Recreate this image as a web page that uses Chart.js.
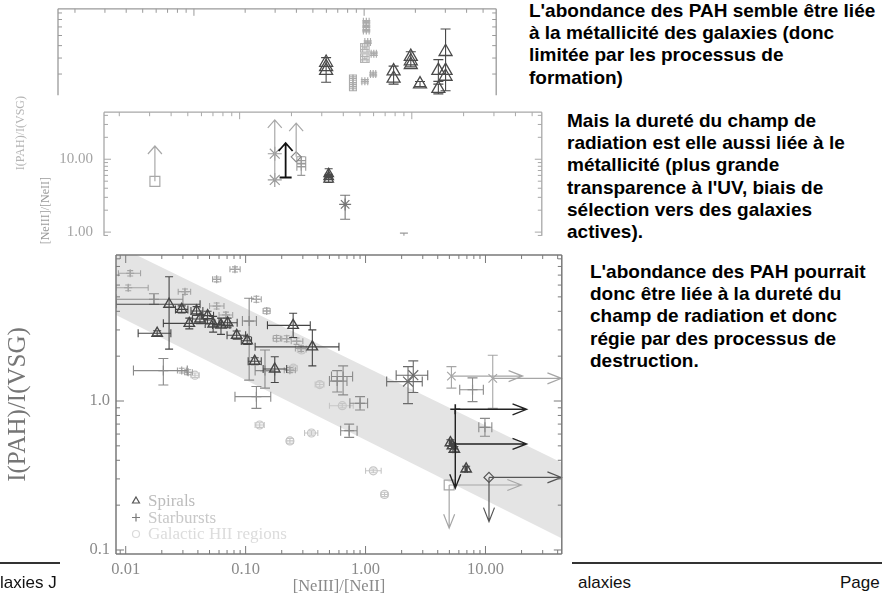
<!DOCTYPE html>
<html>
<head>
<meta charset="utf-8">
<script src="https://cdn.jsdelivr.net/npm/chart.js@4.4.1/dist/chart.umd.min.js"></script>
<style>
  html, body { margin: 0; padding: 0; background: #fff; }
  body { width: 882px; height: 600px; position: relative; overflow: hidden; font-family: "Liberation Sans", Arial, sans-serif; }
  .panel { position: absolute; background: #fff; }
  .panel canvas { display: block; }
  .vlabel { position: absolute; font-family: "Liberation Serif", serif; writing-mode: vertical-rl; transform: rotate(180deg); white-space: nowrap; line-height: 1; }
  .note { position: absolute; font-weight: bold; font-size: 19px; line-height: 22.2px; color: #000; white-space: nowrap; z-index: 6; }
  .rule { position: absolute; height: 2px; background: #333; z-index: 6; }
  .foot { position: absolute; font-size: 17px; color: #111; white-space: nowrap; z-index: 6; }
</style>
</head>
<body>

<div class="panel" id="panelTop" style="left:0;top:0;width:505px;height:104px;z-index:1"><canvas id="cTop" width="505" height="104"></canvas></div>
<div class="panel" id="panelMid" style="left:0;top:104px;width:550px;height:140px;z-index:2"><canvas id="cMid" width="550" height="140"></canvas></div>
<div class="vlabel" style="left:14px;top:96px;font-size:12px;color:#b4b4b4;z-index:3">I(PAH)/I(VSG)</div>
<div class="vlabel" style="left:39px;top:177px;font-size:12px;color:#9a9a9a;z-index:3">[NeIII]/[NeII]</div>
<div class="panel" id="panelMain" style="left:0;top:245px;width:570px;height:355px;z-index:4"><canvas id="cMain" width="570" height="355"></canvas></div>

<div class="note" style="left:529px;top:0px">L'abondance des PAH semble être liée<br>à la métallicité des galaxies (donc<br>limitée par les processus de<br>formation)</div>
<div class="note" style="left:567px;top:110px">Mais la dureté du champ de<br>radiation est elle aussi liée à le<br>métallicité (plus grande<br>transparence à l'UV, biais de<br>sélection vers des galaxies<br>actives).</div>
<div class="note" style="left:590px;top:261px">L'abondance des PAH pourrait<br>donc être liée à la dureté du<br>champ de radiation et donc<br>régie par des processus de<br>destruction.</div>

<div class="rule" style="left:0;top:562px;width:60px"></div>
<div class="rule" style="left:572px;top:562px;width:310px"></div>
<div class="foot" style="left:0;top:573px">laxies J</div>
<div class="foot" style="left:578px;top:573px">alaxies</div>
<div class="foot" style="left:840px;top:573px">Page</div>

<script>
// ---------- main panel: I(PAH)/I(VSG) versus [NeIII]/[NeII] ----------
// rows: [x, y, xLow, xHigh, yLow, yHigh]
const spirals = [
  [0.0183, 2.85, 0.0127, 0.0238, 2.74, 2.96],
  [0.023, 4.46, 0.0083, 0.0417, 2.23, 6.83],
  [0.0293, 4.12, 0.026, 0.033, 3.9, 4.35],
  [0.0339, 3.32, 0.0206, 0.0554, 3.05, 3.6],
  [0.039, 4.02, 0.035, 0.044, 3.75, 4.3],
  [0.0416, 3.55, 0.036, 0.048, 3.3, 3.8],
  [0.0482, 3.74, 0.043, 0.054, 3.5, 4.0],
  [0.0536, 3.29, 0.046, 0.063, 2.9, 3.7],
  [0.0623, 3.24, 0.053, 0.074, 2.8, 3.6],
  [0.0708, 3.35, 0.06, 0.085, 3.1, 3.6],
  [0.0842, 2.76, 0.07, 0.1, 2.6, 2.95],
  [0.103, 2.54, 0.092, 0.112, 2.4, 2.7],
  [0.119, 1.85, 0.105, 0.135, 1.75, 1.95],
  [0.175, 1.64, 0.14, 0.22, 1.33, 1.98],
  [0.249, 3.22, 0.152, 0.346, 2.67, 3.88],
  [0.36, 2.31, 0.12, 0.6, 1.72, 3.0],
  [5.1, 0.525, 5.0, 5.25, 0.5, 0.55],
  [5.3, 0.5, 5.2, 5.4, 0.48, 0.52],
  [5.5, 0.474, 5.35, 5.65, 0.455, 0.495],
  [6.9, 0.35, 6.75, 7.05, 0.335, 0.365]
];
const starbursts = [
  [0.0172, 4.82, 0.0083, 0.030, 4.45, 5.25],
  [0.0206, 1.6, 0.0116, 0.0326, 1.28, 1.93],
  [0.107, 3.44, 0.094, 0.123, 1.38, 4.89],
  [0.123, 1.07, 0.0815, 0.162, 0.893, 1.25],
  [0.145, 1.6, 0.12, 0.175, 1.22, 2.2],
  [0.65, 1.46, 0.52, 0.78, 1.1, 1.72],
  [0.58, 1.36, 0.5, 0.7, 1.15, 1.6],
  [0.9, 0.965, 0.74, 1.04, 0.87, 1.07],
  [0.73, 0.632, 0.62, 0.85, 0.57, 0.7],
  [7.8, 1.19, 6.1, 9.6, 0.99, 1.43],
  [9.9, 0.666, 8.8, 11.3, 0.58, 0.765]
];
const paleStarbursts = [
  [0.0109, 7.2, 0.0087, 0.0133, 6.9, 7.5],
  [0.0105, 5.76, 0.0083, 0.0154, 5.5, 6.0],
  [0.0312, 5.42, 0.0274, 0.0348, 5.2, 5.65],
  [0.0573, 6.56, 0.053, 0.062, 6.3, 6.8],
  [0.0815, 7.65, 0.074, 0.09, 7.35, 7.95],
  [0.0573, 4.34, 0.05, 0.066, 4.15, 4.55],
  [0.0685, 3.78, 0.06, 0.078, 3.6, 3.95],
  [0.123, 4.82, 0.112, 0.135, 4.6, 5.05],
  [0.15, 4.02, 0.14, 0.16, 3.85, 4.2],
  [0.181, 2.63, 0.17, 0.195, 2.52, 2.75],
  [0.22, 2.62, 0.2, 0.24, 2.5, 2.74],
  [0.266, 2.52, 0.24, 0.3, 2.4, 2.65],
  [0.29, 2.25, 0.26, 0.32, 2.15, 2.35],
  [0.0293, 1.6, 0.027, 0.032, 1.54, 1.66],
  [0.0332, 1.56, 0.031, 0.036, 1.5, 1.62],
  [0.234, 1.61, 0.21, 0.26, 1.55, 1.68]
];
const hiiRegions = [
  [0.0378, 1.49, 0.035, 0.041, 1.44, 1.54],
  [0.293, 2.2, 0.27, 0.32, 2.1, 2.3],
  [0.25, 1.66, 0.23, 0.27, 1.6, 1.72],
  [0.415, 1.29, 0.38, 0.45, 1.24, 1.34],
  [0.64, 0.93, 0.5, 0.79, 0.9, 0.96],
  [0.131, 0.69, 0.12, 0.143, 0.665, 0.715],
  [0.234, 0.54, 0.22, 0.25, 0.52, 0.56],
  [0.354, 0.61, 0.31, 0.4, 0.59, 0.63],
  [1.16, 0.34, 1.0, 1.35, 0.33, 0.35],
  [1.44, 0.236, 1.35, 1.53, 0.228, 0.244]
];
const darkCrosses = [
  [2.26, 1.35, 1.5, 2.97, 0.96, 1.7],
  [2.5, 1.49, 1.8, 3.3, 1.14, 1.86]
];
const paleCrosses = [
  [5.2, 1.47, 5.2, 5.2, 1.22, 1.7],
  [11.5, 1.42, 11.5, 11.5, 0.893, 2.03]
];
const limitPlus = [[5.6, 0.88]];
const limitDiamond = [[10.7, 0.307]];
const limitSquare = [[4.98, 0.273]];
// limit arrows: [fromX, fromY, toX, toY]
const blackArrows = [
  [5.6, 0.88, 22, 0.88],
  [5.6, 0.88, 5.6, 0.26],
  [5.6, 0.515, 22, 0.515]
];
const greyArrows = [
  [10.7, 0.307, 43, 0.307],
  [10.7, 0.307, 10.7, 0.155]
];
const paleArrows = [
  [4.98, 0.273, 19.9, 0.273],
  [4.98, 0.273, 4.98, 0.14],
  [5.2, 1.47, 20.4, 1.47],
  [11.5, 1.42, 43, 1.42]
];
// grey band: upper and lower edges
const bandX = [0.008, 45];
const bandUpper = [11.3, 0.38];
const bandLower = [3.84, 0.118];

const seriesNames = ['Spirals', 'Starbursts', 'Galactic HII regions'];
const xTickValues = [0.01, 0.1, 1, 10];
const xTickLabels = ['0.01', '0.10', '1.00', '10.00'];
const yTickValues = [0.1, 1];
const yTickLabels = ['0.1', '1.0'];

// ---------- middle panel ----------
const midSquare = [[0.322, 4.97]];
const midStars = [[1.6, 11.9], [1.6, 5.2]];
const midBar = [[1.85, 5.63]];
const midDiamond = [[2.13, 10.8]];
const midPlus = [
  [2.28, 9.6, 2.15, 2.42, 8.8, 10.8],
  [2.28, 7.9, 2.15, 2.42, 6.0, 8.6]
];
const midTriangles = [
  [3.29, 6.3, 3.29, 3.29, 6.0, 7.4],
  [3.29, 5.75, 3.29, 3.29, 5.3, 6.2],
  [3.29, 5.3, 3.29, 3.29, 4.8, 5.6]
];
const midAsterisk = [[4.1, 2.4, 4.1, 4.1, 1.5, 3.2]];
const midCap = [[9.0, 0.75, 9.0, 9.0, 0.75, 0.97]];
const midBlackArrows = [[1.85, 5.63, 1.85, 16.7]];
const midPaleArrows = [
  [0.322, 4.97, 0.322, 15.2],
  [1.6, 5.2, 1.6, 34.7],
  [2.13, 10.8, 2.13, 31.3]
];
const midYTickValues = [1, 10];
const midYTickLabels = ['1.00', '10.00'];

// ---------- top panel ----------
const topTriangles = [
  [5.98, 3.69], [5.98, 3.41, 5.98, 5.98, 2.59, 4.03], [5.98, 3.19],
  [14.9, 3.16, 14.9, 14.9, 2.5, 3.46], [14.9, 2.77],
  [18.8, 4.1, 18.8, 18.8, 3.41, 4.48], [18.8, 3.79], [18.8, 3.54],
  [21.3, 2.5, 21.3, 21.3, 2.4, 2.62],
  [27.3, 3.19, 27.3, 27.3, 2.63, 3.89], [27.3, 2.31, 27.3, 27.3, 2.1, 2.5],
  [30.1, 4.48, 30.1, 30.1, 2.22, 6.74], [30.1, 3.19], [30.1, 2.87]
];
const topPale = [
  [10.3, 7.67, 9.9, 10.7, 7.5, 7.85],
  [10.3, 7.1, 9.9, 10.7, 6.95, 7.25],
  [10.3, 6.56, 9.9, 10.7, 6.4, 6.7],
  [10.5, 5.33, 10.1, 10.9, 5.2, 5.46],
  [11.4, 4.32, 11.0, 11.8, 4.2, 4.45],
  [11.3, 3.0, 10.9, 11.7, 2.9, 3.1],
  [10.1, 2.63, 9.7, 10.5, 2.55, 2.72],
  [8.6, 2.77, 8.2, 9.0, 2.68, 2.86],
  [8.6, 2.57, 8.2, 9.0, 2.22, 2.95],
  [8.6, 2.39, 8.2, 9.0, 2.3, 2.48]
];
const topPaleSquares = [
  [10.1, 4.8, 9.8, 10.4, 4.65, 4.95],
  [10.1, 3.99, 9.8, 10.4, 3.87, 4.12]
];

// ---------- helpers ----------
const toPoints = rows => rows.map(r => ({
  x: r[0], y: r[1],
  xlo: r[2] ?? r[0], xhi: r[3] ?? r[0],
  ylo: r[4] ?? r[1], yhi: r[5] ?? r[1]
}));

function series(label, rows, style) {
  return Object.assign({
    type: 'scatter', label, data: toPoints(rows), showLine: false,
    backgroundColor: 'rgba(0,0,0,0)', pointBackgroundColor: 'rgba(0,0,0,0)',
    pointBorderColor: style.color, borderColor: style.color,
    pointBorderWidth: style.width ?? 1.2, pointRadius: style.radius ?? 5,
    pointStyle: style.shape, errorBars: true, capSize: style.cap ?? 4,
    order: style.order ?? 5
  }, style.extra || {});
}

function logTicks(min, max) {
  const out = [];
  for (let k = Math.floor(Math.log10(min)); k <= Math.ceil(Math.log10(max)); k++) {
    for (let m = 1; m <= 9; m++) {
      const v = m * Math.pow(10, k);
      if (v >= min * 0.9999 && v <= max * 1.0001) out.push({ v, major: m === 1 });
    }
  }
  return out;
}

// error bars with end caps, drawn just before each dataset's markers
const errorBars = {
  id: 'errorBars',
  beforeDatasetDraw(chart, args) {
    const ds = chart.data.datasets[args.index];
    if (!ds.errorBars) return;
    const { ctx, chartArea: a } = chart;
    const xs = chart.scales.x, ys = chart.scales.y;
    const c = ds.capSize;
    ctx.save();
    ctx.beginPath(); ctx.rect(a.left, a.top, a.right - a.left, a.bottom - a.top); ctx.clip();
    ctx.strokeStyle = ds.borderColor; ctx.lineWidth = ds.errorWidth || 1.1;
    ctx.beginPath();
    ds.data.forEach(p => {
      const x = xs.getPixelForValue(p.x), y = ys.getPixelForValue(p.y);
      if (p.xlo !== p.xhi) {
        const x0 = xs.getPixelForValue(p.xlo), x1 = xs.getPixelForValue(p.xhi);
        ctx.moveTo(x0, y); ctx.lineTo(x1, y);
        ctx.moveTo(x0, y - c); ctx.lineTo(x0, y + c);
        ctx.moveTo(x1, y - c); ctx.lineTo(x1, y + c);
      }
      if (p.ylo !== p.yhi) {
        const y0 = ys.getPixelForValue(p.ylo), y1 = ys.getPixelForValue(p.yhi);
        ctx.moveTo(x, y0); ctx.lineTo(x, y1);
        ctx.moveTo(x - c, y0); ctx.lineTo(x + c, y0);
        ctx.moveTo(x - c, y1); ctx.lineTo(x + c, y1);
      }
    });
    ctx.stroke();
    ctx.restore();
  }
};

// open-headed arrows marking limits
const limitArrows = {
  id: 'limitArrows',
  afterDatasetsDraw(chart, args, opts) {
    if (!opts.groups) return;
    const { ctx, chartArea: a } = chart;
    const xs = chart.scales.x, ys = chart.scales.y;
    ctx.save();
    ctx.beginPath(); ctx.rect(a.left, a.top, a.right - a.left + 1, a.bottom - a.top); ctx.clip();
    opts.groups.forEach(g => {
      ctx.strokeStyle = g.color; ctx.lineWidth = g.width;
      g.rows.forEach(r => {
        const x0 = xs.getPixelForValue(r[0]), y0 = ys.getPixelForValue(r[1]);
        const x1 = xs.getPixelForValue(r[2]), y1 = ys.getPixelForValue(r[3]);
        const len = Math.hypot(x1 - x0, y1 - y0) || 1;
        const ux = (x1 - x0) / len, uy = (y1 - y0) / len;
        const bx = x1 - ux * g.head, by = y1 - uy * g.head;
        ctx.beginPath();
        ctx.moveTo(x0, y0); ctx.lineTo(x1, y1);
        ctx.moveTo(bx - uy * g.spread, by + ux * g.spread); ctx.lineTo(x1, y1);
        ctx.lineTo(bx + uy * g.spread, by - ux * g.spread);
        ctx.stroke();
      });
    });
    ctx.restore();
  }
};

// plot frame with inward log ticks
const frameTicks = {
  id: 'frameTicks',
  afterDatasetsDraw(chart, args, o) {
    const { ctx, chartArea: a } = chart;
    const xs = chart.scales.x, ys = chart.scales.y;
    const s = o.sides;
    ctx.save();
    ctx.strokeStyle = o.color; ctx.lineWidth = o.width;
    ctx.beginPath();
    if (s.includes('t')) { ctx.moveTo(a.left, a.top); ctx.lineTo(a.right, a.top); }
    if (s.includes('b')) { ctx.moveTo(a.left, a.bottom); ctx.lineTo(a.right, a.bottom); }
    if (s.includes('l')) { ctx.moveTo(a.left, a.top); ctx.lineTo(a.left, a.bottom); }
    if (s.includes('r')) { ctx.moveTo(a.right, a.top); ctx.lineTo(a.right, a.bottom); }
    ctx.stroke();
    ctx.lineWidth = o.tickWidth;
    ctx.beginPath();
    logTicks(xs.min, xs.max).forEach(t => {
      const p = xs.getPixelForValue(t.v), L = t.major ? o.major : o.minor;
      if (s.includes('b')) { ctx.moveTo(p, a.bottom); ctx.lineTo(p, a.bottom - L); }
      if (s.includes('t')) { ctx.moveTo(p, a.top); ctx.lineTo(p, a.top + L); }
    });
    logTicks(ys.min, ys.max).forEach(t => {
      const p = ys.getPixelForValue(t.v), L = t.major ? o.major : o.minor;
      if (s.includes('l')) { ctx.moveTo(a.left, p); ctx.lineTo(a.left + L, p); }
      if (s.includes('r')) { ctx.moveTo(a.right, p); ctx.lineTo(a.right - L, p); }
    });
    ctx.stroke();
    ctx.restore();
  }
};

// legend drawn inside the plot, lower left
const innerLegend = {
  id: 'innerLegend',
  afterDraw(chart, args, o) {
    if (!o.items) return;
    const { ctx, chartArea: a } = chart;
    ctx.save();
    ctx.font = o.font;
    ctx.textBaseline = 'middle';
    ctx.textAlign = 'left';
    o.items.forEach((it, i) => {
      const x = a.left + o.dx, y = a.bottom + o.dy + i * o.gap;
      ctx.strokeStyle = it.marker; ctx.fillStyle = 'rgba(0,0,0,0)'; ctx.lineWidth = 1.2;
      Chart.helpers.drawPoint(ctx, { pointStyle: it.shape, radius: it.radius, borderWidth: 1.2, rotation: 0 }, x, y);
      ctx.fillStyle = it.text;
      ctx.fillText(it.name, x + o.textGap, y + 1);
    });
    ctx.restore();
  }
};

Chart.defaults.font.family = '"Liberation Serif", serif';
Chart.defaults.animation = false;
Chart.defaults.events = [];
const plugins = [errorBars, limitArrows, frameTicks, innerLegend];

const labelFor = (values, labels) => v => {
  const i = values.findIndex(t => Math.abs(t - v) / t < 1e-6);
  return i >= 0 ? labels[i] : '';
};

// ---------- main chart ----------
new Chart(document.getElementById('cMain'), {
  type: 'scatter',
  data: {
    datasets: [
      { type: 'line', data: bandX.map((x, i) => ({ x, y: bandUpper[i] })), fill: '+1',
        backgroundColor: '#e4e4e4', borderColor: 'rgba(0,0,0,0)', borderWidth: 0, pointRadius: 0, order: 10 },
      { type: 'line', data: bandX.map((x, i) => ({ x, y: bandLower[i] })), fill: false,
        borderColor: 'rgba(0,0,0,0)', borderWidth: 0, pointRadius: 0, order: 10 },
      series(seriesNames[2], hiiRegions, { color: '#c6c6c6', shape: 'circle', radius: 4, cap: 3, order: 8 }),
      series('pale ' + seriesNames[1], paleStarbursts, { color: '#a4a4a4', shape: 'cross', radius: 4, cap: 3, order: 7 }),
      series(seriesNames[1], starbursts, { color: '#8a8a8a', shape: 'cross', radius: 5, cap: 5, order: 6 }),
      series('pale limits', paleCrosses, { color: '#a6a6a6', shape: 'crossRot', radius: 6, cap: 5, order: 5 }),
      series('limit square', limitSquare, { color: '#a6a6a6', shape: 'rect', radius: 7, order: 5 }),
      series('crosses', darkCrosses, { color: '#6a6a6a', shape: 'crossRot', radius: 7, cap: 5, order: 4 }),
      series('limit diamond', limitDiamond, { color: '#555', shape: 'rectRot', radius: 5, order: 3 }),
      series('limit plus', limitPlus, { color: '#222', shape: 'cross', radius: 5, width: 1.6, order: 2 }),
      series(seriesNames[0], spirals, { color: '#454545', shape: 'triangle', radius: 6, width: 1.4, cap: 4, order: 1 })
    ]
  },
  options: {
    responsive: false, devicePixelRatio: 1,
    layout: { padding: { left: 0, top: 10, right: 8, bottom: 0 } },
    scales: {
      x: {
        type: 'logarithmic', min: 0.0083, max: 43.3,
        grid: { display: false, drawTicks: false }, border: { display: false },
        afterBuildTicks: s => { s.ticks = xTickValues.map(value => ({ value })); },
        afterFit: s => { s.height = 46; s.paddingLeft = 0; s.paddingRight = 0; },
        ticks: { autoSkip: false, maxRotation: 0, padding: 6, color: '#8a8a8a', font: { size: 16.5 },
                 callback: labelFor(xTickValues, xTickLabels) },
        title: { display: true, text: '[NeIII]/[NeII]', color: '#8a8a8a', font: { size: 16.5 }, padding: { top: 0, bottom: 3 } }
      },
      y: {
        type: 'logarithmic', min: 0.094, max: 9.55,
        grid: { display: false, drawTicks: false }, border: { display: false },
        afterBuildTicks: s => { s.ticks = yTickValues.map(value => ({ value })); },
        afterFit: s => { s.width = 116; s.paddingTop = 0; s.paddingBottom = 0; },
        ticks: { autoSkip: false, padding: 6, color: '#8a8a8a', font: { size: 16.5 },
                 callback: labelFor(yTickValues, yTickLabels) },
        title: { display: true, text: 'I(PAH)/I(VSG)', color: '#767676', font: { size: 25 }, padding: { top: 3, bottom: 0 } }
      }
    },
    plugins: {
      legend: { display: false }, tooltip: { enabled: false },
      limitArrows: { groups: [
        { rows: paleArrows, color: '#a6a6a6', width: 1.2, head: 14, spread: 5.5 },
        { rows: greyArrows, color: '#555', width: 1.2, head: 14, spread: 5.5 },
        { rows: blackArrows, color: '#222', width: 1.4, head: 14, spread: 5.5 }
      ] },
      frameTicks: { sides: 'tblr', color: '#7a7a7a', width: 1.5, tickWidth: 1, major: 8, minor: 4 },
      innerLegend: {
        font: '17px "Liberation Serif", serif', dx: 20, dy: -53, gap: 16.5, textGap: 12,
        items: [
          { name: seriesNames[0], shape: 'triangle', radius: 4, marker: '#555', text: '#bcbcbc' },
          { name: seriesNames[1], shape: 'cross', radius: 4, marker: '#7a7a7a', text: '#c8c8c8' },
          { name: seriesNames[2], shape: 'circle', radius: 3.5, marker: '#dadada', text: '#dcdcdc' }
        ]
      }
    }
  },
  plugins
});

// ---------- middle chart ----------
new Chart(document.getElementById('cMid'), {
  type: 'scatter',
  data: {
    datasets: [
      series('square', midSquare, { color: '#a8a8a8', shape: 'rect', radius: 7, order: 6 }),
      series('stars', midStars, { color: '#9a9a9a', shape: 'star', radius: 7, order: 5 }),
      series('diamond', midDiamond, { color: '#8a8a8a', shape: 'rectRot', radius: 5, order: 5 }),
      series('plus', midPlus, { color: '#9a9a9a', shape: 'cross', radius: 4, cap: 4, order: 5 }),
      series('asterisk', midAsterisk, { color: '#777', shape: 'star', radius: 6, cap: 5, order: 4 }),
      series('cap', midCap, { color: '#9a9a9a', shape: 'cross', radius: 0, cap: 4, order: 4 }),
      series('bar', midBar, { color: '#111', shape: 'line', radius: 6, width: 2, order: 2 }),
      series('triangles', midTriangles, { color: '#4a4a4a', shape: 'triangle', radius: 5.5, width: 1.3, cap: 4, order: 1 })
    ]
  },
  options: {
    responsive: false, devicePixelRatio: 1,
    layout: { padding: { left: 0, top: 6, right: 7, bottom: 0 } },
    scales: {
      x: { type: 'logarithmic', min: 0.163, max: 56.9, display: false },
      y: {
        type: 'logarithmic', min: 0.89, max: 44.2,
        grid: { display: false, drawTicks: false }, border: { display: false },
        afterBuildTicks: s => { s.ticks = midYTickValues.map(value => ({ value })); },
        afterFit: s => { s.width = 104; s.paddingTop = 0; s.paddingBottom = 0; },
        ticks: { autoSkip: false, padding: 11, color: '#a4a4a4', font: { size: 15 },
                 callback: labelFor(midYTickValues, midYTickLabels) }
      }
    },
    plugins: {
      legend: { display: false }, tooltip: { enabled: false },
      limitArrows: { groups: [
        { rows: midPaleArrows, color: '#a8a8a8', width: 1.2, head: 8, spread: 7 },
        { rows: midBlackArrows, color: '#111', width: 1.8, head: 8, spread: 7 }
      ] },
      frameTicks: { sides: 'tlr', color: '#a8a8a8', width: 1.3, tickWidth: 1, major: 7, minor: 4 }
    }
  },
  plugins
});

// ---------- top chart ----------
new Chart(document.getElementById('cTop'), {
  type: 'scatter',
  data: {
    datasets: [
      series('pale', topPale, { color: '#ababab', shape: 'cross', radius: 4, cap: 4, order: 5 }),
      series('pale squares', topPaleSquares, { color: '#b4b4b4', shape: 'rect', radius: 6, cap: 4, order: 5 }),
      series('triangles', topTriangles, { color: '#4a4a4a', shape: 'triangle', radius: 7.5, width: 1.3, cap: 5, order: 1 })
    ]
  },
  options: {
    responsive: false, devicePixelRatio: 1,
    layout: { padding: { left: 58, top: 5, right: 4, bottom: 0 } },
    scales: {
      x: { type: 'logarithmic', min: 0.159, max: 59.7, display: false },
      y: { type: 'logarithmic', min: 2.05, max: 9.7, display: false }
    },
    plugins: {
      legend: { display: false }, tooltip: { enabled: false },
      frameTicks: { sides: 'tlr', color: '#9a9a9a', width: 1.3, tickWidth: 1, major: 7, minor: 4 }
    }
  },
  plugins
});
</script>
</body>
</html>
